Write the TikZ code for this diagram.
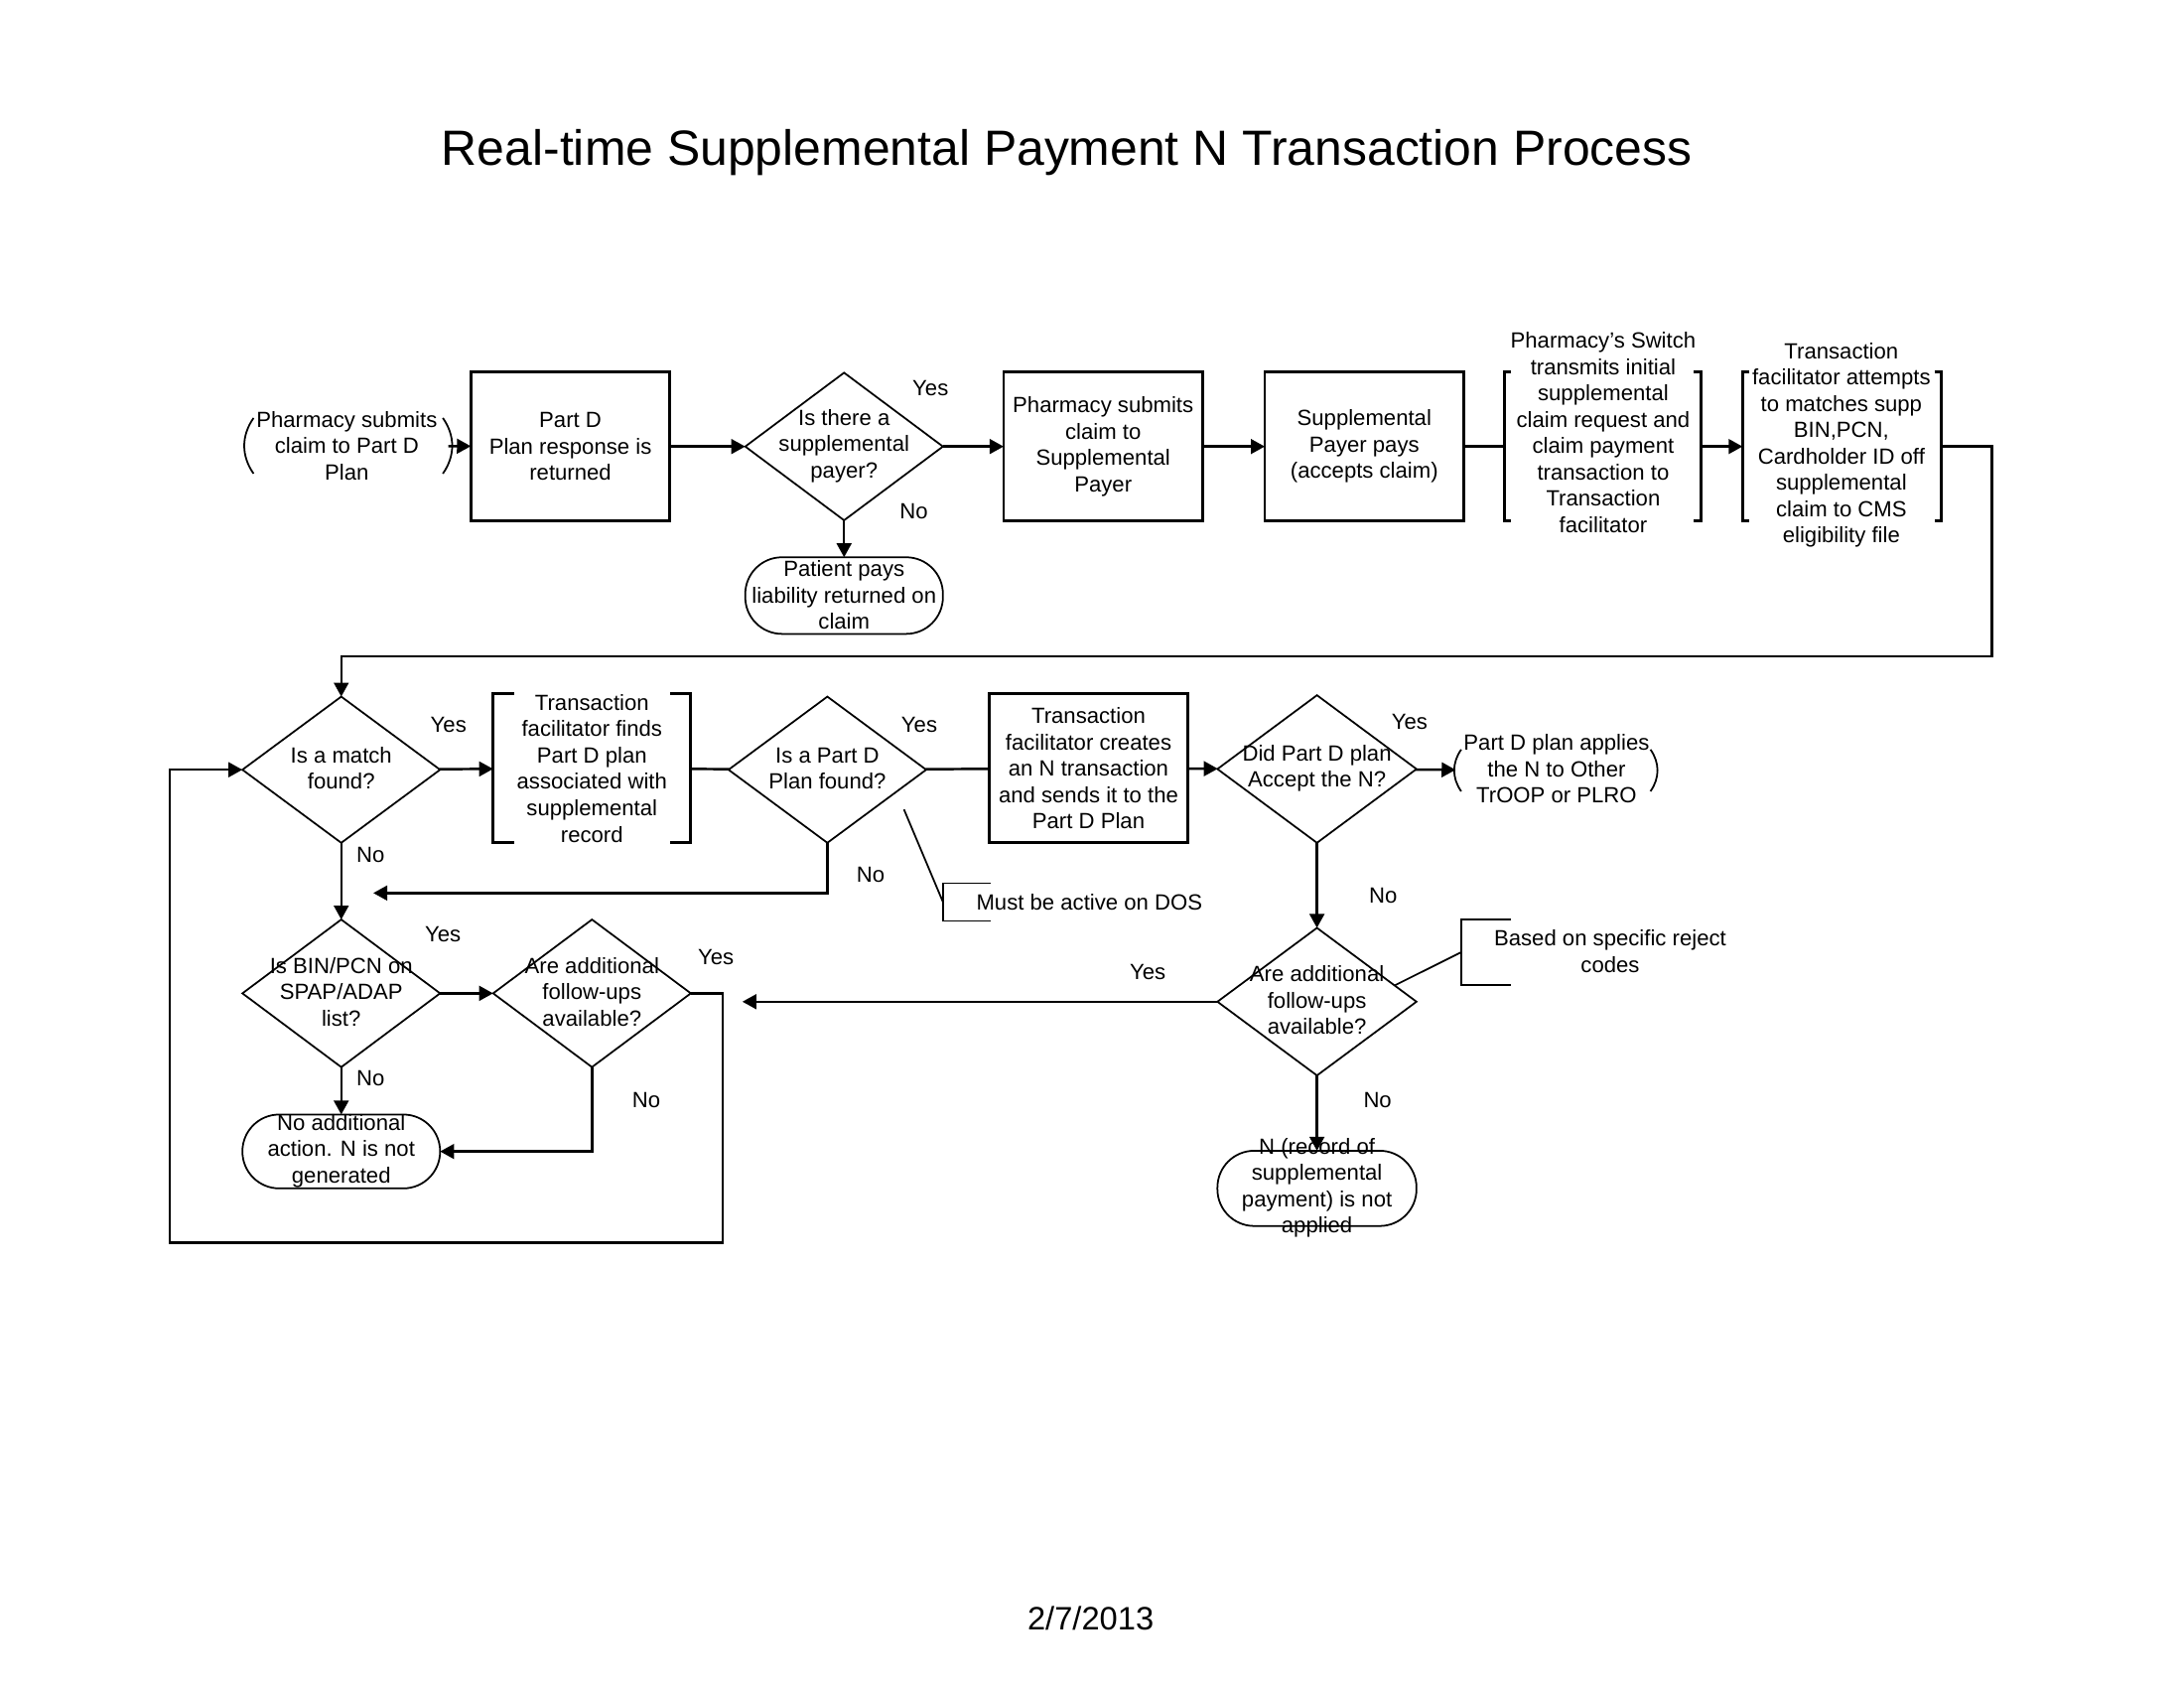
\documentclass[tikz,border=0pt]{standalone}
\usepackage{fontspec}
\setmainfont{Liberation Sans}
\usetikzlibrary{shapes.geometric,arrows.meta,calc}
\tikzset{
  every node/.style={font=\fontsize{6.3}{7.56}\selectfont, align=center, inner sep=0pt, outer sep=0pt},
  procbox/.style={draw, line width=0.8pt, minimum width=2.006cm, minimum height=1.501cm},
  dec/.style={draw, shape=diamond, line width=0.5pt, minimum width=1.992cm, minimum height=1.487cm},
  term/.style={draw, line width=0.5pt, rounded corners=0.37cm, minimum width=1.992cm, minimum height=0.758cm},
  frame/.style={minimum width=1.992cm, minimum height=1.501cm},
  conn/.style={line width=0.7pt, -{Triangle[length=4pt,width=4.2pt]}},
  plainline/.style={line width=0.7pt},
  brk/.style={line width=0.8pt},
  parenline/.style={line width=0.5pt},
  thinline/.style={line width=0.5pt},
}
\begin{document}
\begin{tikzpicture}[x=0.014031cm,y=-0.014031cm]
\fill[white] (0,0) rectangle (1568,1212);
\useasboundingbox (0,0) rectangle (1568,1212);

% title and date
\node[anchor=base, font=\fontsize{14.2}{17}\selectfont] (title) at (766,119) {Real-time Supplemental Payment N Transaction Process};
\node[anchor=base, font=\fontsize{9.3}{11}\selectfont] (date) at (783,1170) {2/7/2013};

% ---------- row 1 ----------
\node[minimum width=2.02cm, minimum height=0.561cm] (start) at (250,320) {};
\node (startT) at (249,320) {Pharmacy submits\\claim to Part D\\Plan};
\draw[parenline] ($(start.north west)+(4,0)$) to[bend right=35] ($(start.south west)+(4,0)$);
\draw[parenline] ($(start.north east)+(-4,0)$) to[bend left=35] ($(start.south east)+(-4,0)$);

\node[procbox] (b1) at (409.5,320.5) {Part D\\Plan response is\\returned};
\node[dec] (d1) at (606,320.5) {};
\node (d1T) at (606,320) {Is there a\\supplemental\\payer?};
\node[term, minimum height=0.772cm] (t1) at (606,427.5) {};
\node (t1T) at (606,427) {Patient pays\\liability returned on\\claim};
\node[procbox] (b2) at (792,320.5) {Pharmacy submits\\claim to\\Supplemental\\Payer};
\node[procbox] (b3) at (979.5,320.5) {Supplemental\\Payer pays\\(accepts claim)};

\node[frame, minimum width=1.978cm] (k1) at (1150.5,320.5) {};
\node (k1T) at (1151,310.5) {Pharmacy's Switch\\transmits initial\\supplemental\\claim request and\\claim payment\\transaction to\\Transaction\\facilitator};
\draw[brk] ($(k1.north west)+(5,0)$) -- (k1.north west) -- (k1.south west) -- ++(5,0);
\draw[brk] ($(k1.north east)+(-5,0)$) -- (k1.north east) -- (k1.south east) -- ++(-5,0);

\node[frame, minimum width=2.006cm] (k2) at (1322.5,320.5) {};
\node (k2T) at (1322,319.5) {Transaction\\facilitator attempts\\to matches supp\\BIN,PCN,\\Cardholder ID off\\supplemental\\claim to CMS\\eligibility file};
\draw[brk] ($(k2.north west)+(5,0)$) -- (k2.north west) -- (k2.south west) -- ++(5,0);
\draw[brk] ($(k2.north east)+(-5,0)$) -- (k2.north east) -- (k2.south east) -- ++(-5,0);

\node (y1) at (668,279) {Yes};
\node (n1) at (656,367) {No};

\draw[conn] (start) -- (b1);
\draw[conn] (b1) -- (d1);
\draw[conn] (d1) -- (b2);
\draw[conn] (b2) -- (b3);
\draw[plainline] (b3) -- (k1);
\draw[conn] (k1) -- (k2);
\draw[conn] (d1) -- (t1);

% ---------- row 2 ----------
\node[dec, minimum height=1.473cm] (d5) at (245,552.5) {};
\node (d5T) at (245,551.5) {Is a match\\found?};

\node[frame] (k3) at (425,551.5) {};
\node (k3T) at (425,551.5) {Transaction\\facilitator finds\\Part D plan\\associated with\\supplemental\\record};
\draw[brk] ($(k3.north west)+(15,0)$) -- (k3.north west) -- (k3.south west) -- ++(15,0);
\draw[brk] ($(k3.north east)+(-15,0)$) -- (k3.north east) -- (k3.south east) -- ++(-15,0);

\node[dec, minimum height=1.473cm] (d6) at (594,552.5) {};
\node (d6T) at (594,551.5) {Is a Part D\\Plan found?};

\node[procbox] (b4) at (781.5,551.5) {Transaction\\facilitator creates\\an N transaction\\and sends it to the\\Part D Plan};

\node[dec, minimum width=2.006cm] (d7) at (945.5,552) {};
\node (d7T) at (945.5,551.5) {Did Part D plan\\Accept the N?};

\node[minimum width=2.02cm, minimum height=0.421cm] (p2) at (1117,553) {};
\node (p2T) at (1117.5,552) {Part D plan applies\\the N to Other\\TrOOP or PLRO};
\draw[parenline] ($(p2.north west)+(4,0)$) to[bend right=35] ($(p2.south west)+(4,0)$);
\draw[parenline] ($(p2.north east)+(-4,0)$) to[bend left=35] ($(p2.south east)+(-4,0)$);

\node[dec, minimum width=2.006cm] (d8) at (945.5,719) {};
\node (d8T) at (945.5,718) {Are additional\\follow-ups\\available?};

\node[term, minimum width=2.006cm] (t2) at (945.5,853) {};
\node (t2T) at (945.5,852.5) {N (record of\\supplemental\\payment) is not\\applied};

% annotations
\coordinate (dosA) at (649,581);
\node[minimum width=0.477cm, minimum height=0.379cm] (dosB) at (694,647.5) {};
\draw[thinline] (dosB.north east) -- (dosB.north west) -- (dosB.south west) -- (dosB.south east);
\draw[thinline] (dosA) -- (dosB.west);
\node[anchor=west] (dosT) at (701,647.5) {Must be active on DOS};

\node[minimum width=0.505cm, minimum height=0.659cm] (rejB) at (1067,683.5) {};
\draw[thinline] (rejB.north east) -- (rejB.north west) -- (rejB.south west) -- (rejB.south east);
\draw[thinline] ($(d8.north)!0.78!(d8.east)$) -- (rejB.west);
\node (rejT) at (1156,683) {Based on specific reject\\codes};

\node (y5) at (322,520) {Yes};
\node (n5) at (266,614) {No};
\node (y6) at (660,520) {Yes};
\node (n6) at (625,628) {No};
\node (y7) at (1012,518) {Yes};
\node (n7) at (993,643) {No};
\node (y8) at (824,698) {Yes};
\node (n8) at (989,790) {No};

% ---------- row 3 ----------
\node[dec] (d9) at (245,713) {};
\node (d9T) at (245,712) {Is BIN/PCN on\\SPAP/ADAP\\list?};
\node[dec] (d10) at (425,713) {};
\node (d10T) at (425,712) {Are additional\\follow-ups\\available?};
\node[term, minimum height=0.744cm] (t3) at (245,826.5) {};
\node (t3T) at (245,826) {No additional\\action. N is not\\generated};

\node (y9) at (318,671) {Yes};
\node (y10) at (514,687) {Yes};
\node (n9) at (266,774) {No};
\node (n10) at (464,790) {No};

\coordinate (noEnd) at (268,641);
\coordinate (yesEnd) at (533,719);

% ---------- connectors ----------
\draw[conn] (k2.east) -- ++(36,0) -- ++(0,150.5) -| (d5.north);
\draw[conn] (d5) -- (k3);
\draw[plainline] (k3) -- (d6);
\draw[plainline] (d6) -- (b4);
\draw[conn] (b4) -- (d7);
\draw[conn] (d7) -- (p2);
\draw[conn] (d7) -- (d8);
\draw[conn] (d8) -- (t2);
\draw[conn] (d8) -- (yesEnd);
\draw[conn] (d6.south) |- (noEnd);
\draw[conn] (d5) -- (d9);
\draw[conn] (d9) -- (d10);
\draw[conn] (d9) -- (t3);
\draw[conn] (d10.south) |- (t3.east);
\draw[conn] (d10.east) -- ++(23,0) -- ++(0,179) -| ($(d5.west)+(-52,0)$) -- (d5.west);
\end{tikzpicture}
\end{document}
